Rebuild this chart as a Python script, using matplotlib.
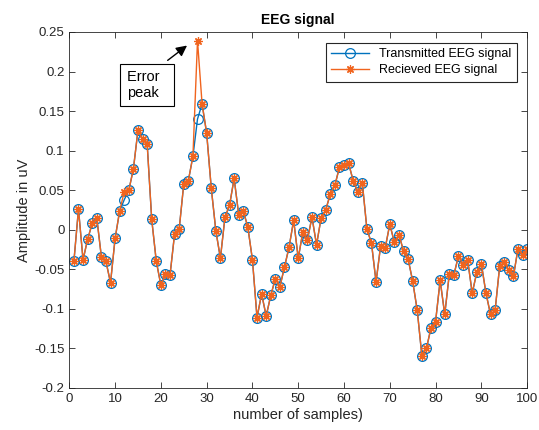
#!/usr/bin/env python3

from matplotlib import pyplot as plt
from matplotlib.ticker import FormatStrFormatter, MultipleLocator
import numpy as np

samples = np.arange(1, 101)

transmitted = [
    -0.040, 0.026, -0.038, -0.012, 0.008, 0.015, -0.034, -0.040, -0.067, -0.011,
    0.024, 0.038, 0.050, 0.077, 0.126, 0.115, 0.109, 0.013, -0.040, -0.070,
    -0.056, -0.057, -0.005, 0.001, 0.058, 0.062, 0.093, 0.140, 0.159, 0.122,
    0.053, -0.001, -0.036, 0.016, 0.031, 0.065, 0.019, 0.024, 0.003, -0.038,
    -0.111, -0.081, -0.109, -0.083, -0.062, -0.072, -0.047, -0.022, 0.012, -0.036,
    -0.003, -0.013, 0.016, -0.019, 0.015, 0.025, 0.045, 0.056, 0.079, 0.082,
    0.084, 0.062, 0.048, 0.059, 0.001, -0.017, -0.066, -0.020, -0.023, 0.007,
    -0.016, -0.006, -0.027, -0.037, -0.065, -0.102, -0.159, -0.150, -0.124, -0.116,
    -0.064, -0.107, -0.056, -0.057, -0.033, -0.044, -0.038, -0.080, -0.054, -0.043,
    -0.080, -0.107, -0.102, -0.046, -0.041, -0.051, -0.059, -0.024, -0.032, -0.024,
]

# received signal equals the transmitted one except at two samples
received = list(transmitted)
received[11] = 0.048
received[27] = 0.239

BLUE = "#0072BD"
ORANGE = "#F0641E"
AXCOL = "#262626"


def setup():
    plt.rcParams.update({
        "font.family": ["Liberation Sans", "DejaVu Sans"],
        "font.size": 9.5,
        "axes.edgecolor": AXCOL,
        "axes.linewidth": 0.6,
        "xtick.color": AXCOL,
        "ytick.color": AXCOL,
        "xtick.direction": "in",
        "ytick.direction": "in",
        "xtick.top": True,
        "ytick.right": True,
        "xtick.major.size": 4,
        "ytick.major.size": 4,
        "xtick.major.width": 0.6,
        "ytick.major.width": 0.6,
    })


def plot_signal():
    fig = plt.figure(figsize=(5.39, 4.30), dpi=100)
    ax = fig.add_axes([0.1286, 0.0977, 0.8494, 0.8279])

    ax.plot(samples, transmitted, "-o", color=BLUE, linewidth=1.0,
            markersize=7, markerfacecolor="none", markeredgewidth=0.9,
            label="Transmitted EEG signal")
    ax.plot(samples, received, "-", marker=(8, 2, 0), color=ORANGE,
            linewidth=1.0, markersize=6, markeredgewidth=0.9,
            label="Recieved EEG signal")

    ax.set_xlim(0, 100)
    ax.set_ylim(-0.2, 0.25)
    ax.xaxis.set_major_locator(MultipleLocator(10))
    ax.yaxis.set_major_locator(MultipleLocator(0.05))
    ax.yaxis.set_major_formatter(FormatStrFormatter("%g"))

    ax.set_title("EEG signal", fontweight="bold", fontsize=10, color="black")
    ax.set_xlabel("number of samples)", fontsize=10.5, color=AXCOL, labelpad=2)
    ax.set_ylabel("Amplitude in uV", fontsize=10.5, color=AXCOL, labelpad=2)

    leg = ax.legend(loc="upper right", fontsize=9, fancybox=False,
                    borderaxespad=0.85, handlelength=3.0, borderpad=0.45,
                    labelspacing=0.3)
    leg.get_frame().set_edgecolor(AXCOL)
    leg.get_frame().set_linewidth(0.8)
    leg.get_frame().set_alpha(1)

    ax.annotate("", xy=(26.2, 0.235), xytext=(21.0, 0.212),
                arrowprops=dict(arrowstyle="-|>", color="black", lw=1.0,
                                mutation_scale=16))
    ax.text(12.6, 0.183, "Error  \npeak", ha="left", va="center",
            fontsize=10.5, linespacing=1.15,
            bbox=dict(boxstyle="square,pad=0.45", facecolor="white",
                      edgecolor="black", linewidth=0.8))
    return fig


def main():
    setup()
    fig = plot_signal()
    fig.savefig("out.png", dpi=100)


if __name__ == "__main__":
    main()
